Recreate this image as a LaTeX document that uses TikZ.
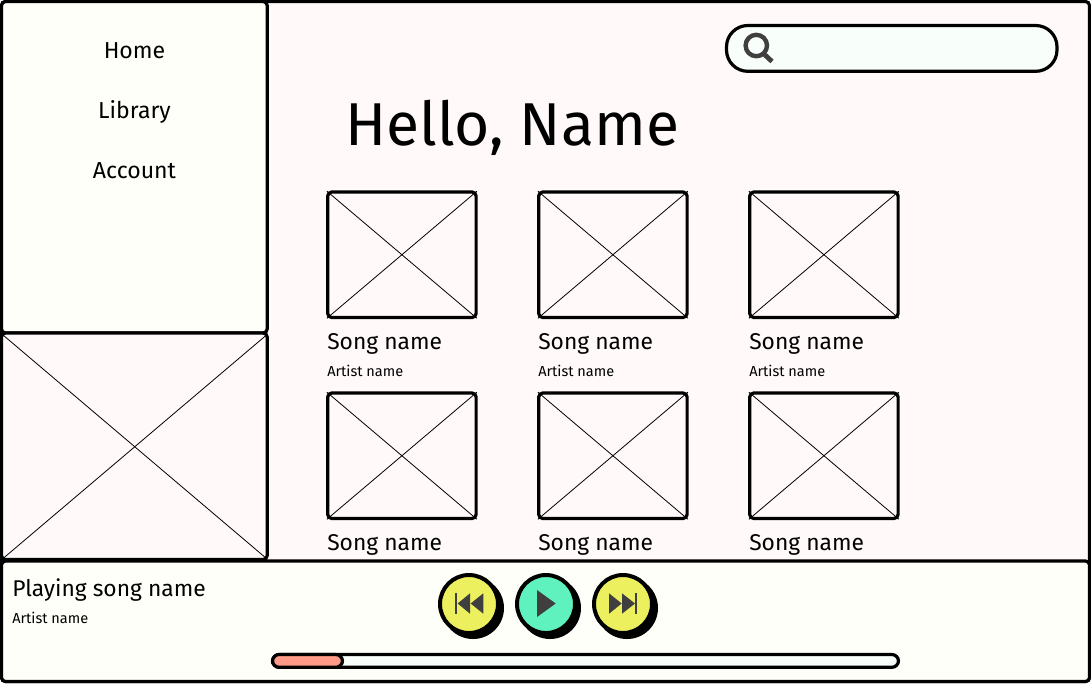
\documentclass[tikz,border=0pt]{standalone}
\usepackage{fontspec}
\setmainfont{Fira Sans}
\definecolor{pagebg}{HTML}{FFF9FA}
\definecolor{panelbg}{HTML}{FFFFFA}
\definecolor{mintbg}{HTML}{F8FFFA}
\definecolor{ybtn}{HTML}{EDF05E}
\definecolor{gbtn}{HTML}{5FF2BE}
\definecolor{prog}{HTML}{FF9A88}
\definecolor{icon}{HTML}{3F3F3F}
\tikzset{
  x=0.75pt,y=-0.75pt,
  frame/.style={draw=black,line width=2.4pt,rounded corners=3pt},
  cross/.style={draw=black,line width=0.6pt},
  navlabel/.style={font=\fontsize{17.3pt}{20pt}\selectfont,inner sep=0pt,anchor=base},
  songlabel/.style={font=\fontsize{17.1pt}{20pt}\selectfont,inner sep=0pt,anchor=base west},
  artistlabel/.style={font=\fontsize{10.9pt}{13pt}\selectfont,inner sep=0pt,anchor=base west},
  thumb/.style={frame,fill=pagebg,outer sep=0pt},
  glyph/.style={fill=icon,draw=none},
}
\newcommand{\thumbat}[3]{%
  \node[thumb,minimum width=111.3pt,minimum height=94.1pt,inner sep=0pt,anchor=north west] (#3) at (#1+0.7,#2+1) {};
  \draw[cross] ([shift={(-0.6pt,0.6pt)}]#3.north west) -- ([shift={(0.6pt,-0.6pt)}]#3.south east);
  \draw[cross] ([shift={(0.6pt,0.6pt)}]#3.north east) -- ([shift={(-0.6pt,-0.6pt)}]#3.south west);
}
\begin{document}
\begin{tikzpicture}
\useasboundingbox (0,0) rectangle (1091,683);
\fill[white] (0,0) rectangle (1091,683);
% main
\draw[frame,fill=pagebg] (1.5,1.5) rectangle (1089.5,681.5);
% sidebar
\draw[frame,fill=panelbg] (1.5,1.5) rectangle (267.2,333);
\node[navlabel] (home) at (134.5,58) {Home};
\node[navlabel] (lib) at (134.5,118) {Library};
\node[navlabel] (acct) at (134.5,178) {Account};
% cover
\draw[frame,fill=pagebg] (1.5,333) rectangle (267.2,559.5);
\draw[cross] (3,335) -- (266.5,558.5);
\draw[cross] (266.5,335) -- (3,558.5);
% search
\draw[draw=black,line width=2.4pt,fill=mintbg,rounded corners=16pt] (726.5,25.5) rectangle (1057,71.3);
\draw[icon,line width=3.3pt] (756.3,45.5) circle (10.7);
\draw[icon,line width=3.6pt] (764,54) -- (772,61.5);
% title
\node[font=\fontsize{45.4pt}{54pt}\selectfont,inner sep=0pt,anchor=base west] (title) at (345,145) {Hello, Name};
% thumbs
\thumbat{327}{191}{ta}\thumbat{538}{191}{tb}\thumbat{749}{191}{tc}
\thumbat{327}{392}{td}\thumbat{538}{392}{te}\thumbat{749}{392}{tf}
\foreach \n/\x in {sa/327,sb/538,sc/749}{
  \node[songlabel] (\n) at (\x,349) {Song name};
  \node[artistlabel] (a\n) at (\x,376) {Artist name};
}
\foreach \n/\x in {sd/327,se/538,sf/749}{
  \node[songlabel] (\n) at (\x,550) {Song name};
}
% player
\draw[frame,fill=panelbg] (1.5,561) rectangle (1089.5,681.5);
\node[songlabel] (playing) at (12,596) {Playing song name};
\node[artistlabel] (partist) at (12,623) {Artist name};
% buttons
\foreach \x/\c in {469/ybtn,546/gbtn,623/ybtn}{
  \fill[black] (\x+4,608) circle (31);
  \draw[black,line width=3pt,fill=\c] (\x,604) circle (29);
}
% prev
\fill[glyph] (455,592.7) rectangle (457.3,614);
\fill[glyph] (457.7,603.5) -- (470,593.3) -- (470,613.7) -- cycle;
\fill[glyph] (470.7,603.5) -- (483.3,593.3) -- (483.3,613.7) -- cycle;
% play
\fill[glyph] (537,590) -- (555.7,603.5) -- (537,617) -- cycle;
% next
\fill[glyph] (609,593.3) -- (621.7,603.5) -- (609,613.7) -- cycle;
\fill[glyph] (622,593.3) -- (635,603.5) -- (622,613.7) -- cycle;
\fill[glyph] (635,592.7) rectangle (637.3,614);
% progress
\draw[draw=black,line width=2.4pt,fill=mintbg,rounded corners=5pt] (272.5,654.5) rectangle (898.5,667.3);
\draw[draw=black,line width=2.4pt,fill=prog,rounded corners=5pt] (272.5,654.5) rectangle (342.5,667.3);
\end{tikzpicture}
\end{document}
